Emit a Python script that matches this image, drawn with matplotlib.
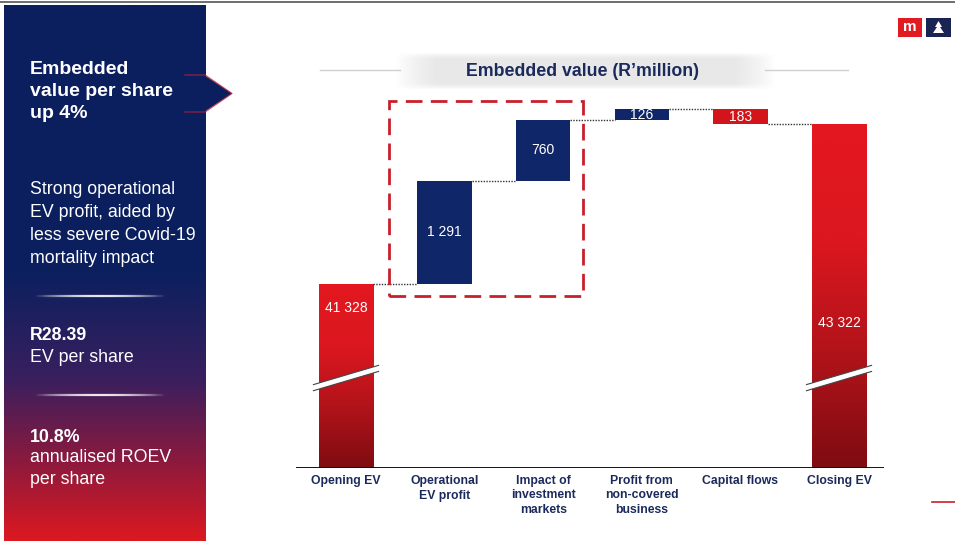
import numpy as np
import matplotlib.pyplot as plt
from matplotlib.colors import LinearSegmentedColormap, to_rgb
from matplotlib.patches import Polygon, Rectangle

plt.rcParams['font.family'] = ['Liberation Sans', 'DejaVu Sans']

# Embedded value walk, R'million
categories = ["Opening EV", "Operational\nEV profit", "Impact of\ninvestment\nmarkets",
              "Profit from\nnon-covered\nbusiness", "Capital flows", "Closing EV"]
steps = [41328, 1291, 760, 126, -183, 43322]
is_total = [True, False, False, False, False, True]
value_labels = ["41 328", "1 291", "760", "126", "183", "43 322"]

headline = ["Embedded", "value per share", "up 4%"]
commentary = ["Strong operational", "EV profit, aided by", "less severe Covid-19", "mortality impact"]
ev_per_share = ("R28.39", "EV per share")
roev = ("10.8%", ["annualised ROEV", "per share"])

NAVY = "#0f2768"
RED = "#d3141b"
TEXT_NAVY = "#1b2a5c"
W, H = 955, 541

fig = plt.figure(figsize=(W / 100, H / 100), dpi=100)
bg = fig.add_axes([0, 0, 1, 1])
bg.axis('off')

# left panel: navy fading into red
panel_cmap = LinearSegmentedColormap.from_list(
    "panel", [(0.0, "#0b1f5e"), (0.5, "#0c205e"), (0.7, "#3a1f5e"), (0.85, "#8a1a3e"), (1.0, "#dc1820")])
grad = np.linspace(0, 1, 256).reshape(-1, 1)
bg.imshow(grad, cmap=panel_cmap, extent=(4, 205, H, 5), aspect='auto', zorder=1)
bg.add_patch(Polygon([(204, 75), (232, 93.5), (204, 112)], closed=True, facecolor="#0b1f5e",
                     edgecolor='none', zorder=2))
bg.plot([185, 205, 232, 205, 185], [75, 75, 93.5, 112, 112], color="#b8203a", lw=0.9,
        alpha=0.8, zorder=2)
bg.plot([0, W], [1.5, 1.5], color="#555555", lw=1.2, zorder=3)


def line_block(lines, x, y0, step, size, weight):
    for i, s in enumerate(lines):
        bg.text(x, y0 + i * step, s, color="white", fontsize=size, fontweight=weight,
                ha='left', va='center', zorder=4)


def glow_line(y):
    xs = np.linspace(35, 165, 60)
    for a, b in zip(xs[:-1], xs[1:]):
        t = abs((a + b) / 2 - 100) / 65
        bg.plot([a, b], [y, y], color="white", lw=1.6, alpha=0.9 * (1 - t ** 2), zorder=4,
                solid_capstyle='butt')


line_block(headline, 30, 70, 21.5, 14, 'bold')
line_block(commentary, 30, 190, 22.7, 12.8, 'normal')
glow_line(296)
line_block([ev_per_share[0]], 30, 335, 21, 12.8, 'bold')
line_block([ev_per_share[1]], 30, 357, 21, 12.8, 'normal')
glow_line(395)
line_block([roev[0]], 30, 437, 21, 12.8, 'bold')
line_block(roev[1], 30, 458, 22, 12.8, 'normal')

# title with soft grey backdrop
gx = np.linspace(-1, 1, 200)
gy = np.linspace(-1, 1, 40)
mask = np.clip(1.6 - 1.6 * np.abs(gx)[None, :] ** 4, 0, 1) * np.clip(1.4 - 1.4 * np.abs(gy)[:, None] ** 3, 0, 1)
glow = np.zeros((40, 200, 4))
glow[..., :3] = to_rgb("#e4e4e4")
glow[..., 3] = mask * 0.85
bg.imshow(glow, extent=(395, 775, 90, 52), aspect='auto', zorder=1)
bg.plot([320, 400], [70, 70], color="#d0d0d0", lw=1, zorder=2)
bg.plot([765, 848], [70, 70], color="#d0d0d0", lw=1, zorder=2)
bg.text(582, 72, "Embedded value (R\u2019million)", color=TEXT_NAVY, fontsize=12.8,
        fontweight='bold', ha='center', va='center', zorder=4)

# corner marks
bg.add_patch(Rectangle((898, 18), 24, 19, facecolor="#e11b22", edgecolor='none', zorder=3))
bg.text(910, 27, "m", color="white", fontsize=11, fontweight='bold', ha='center', va='center', zorder=4)
bg.add_patch(Rectangle((926, 18), 25, 19, facecolor="#1a2452", edgecolor='none', zorder=3))
bg.add_patch(Polygon([(938.5, 21), (942, 27), (940, 27), (944, 33), (933, 33), (937, 27), (935, 27)],
                     closed=True, facecolor="white", edgecolor='none', zorder=4))
bg.plot([932, W], [502, 502], color="#c8202b", lw=1.2, zorder=3)

bg.set_xlim(0, W)
bg.set_ylim(H, 0)

# waterfall
ax = fig.add_axes([296 / W, (H - 468) / H, (884 - 296) / W, (468 - 100) / H])
ax.patch.set_visible(False)
floor = 39034            # axis is broken: bars of totals start here
ymax = 43623
bar_w = 0.55
x = np.arange(len(categories))

total_cmap = LinearSegmentedColormap.from_list("tot", ["#7e0c11", "#b2131a", "#dc171f", "#e3171f"])
running = 0
tops = []
for i, (v, tot) in enumerate(zip(steps, is_total)):
    if tot:
        ax.imshow(np.linspace(0, 1, 200).reshape(-1, 1), cmap=total_cmap, origin='lower',
                  extent=(i - bar_w / 2, i + bar_w / 2, floor, v), aspect='auto', zorder=2)
        running = v
    else:
        lo, hi = (running, running + v) if v > 0 else (running + v, running)
        ax.bar(i, hi - lo, bottom=lo, width=bar_w, color=NAVY if v > 0 else RED, zorder=2)
        running += v
    tops.append(running)

# dotted connectors between consecutive bars
for i in range(len(steps) - 1):
    ax.plot([i + bar_w / 2, i + 1 - bar_w / 2], [tops[i], tops[i]], color="#333333",
            lw=1, linestyle=(0, (1, 1)), zorder=3)

# value labels
run = 0
for i, (v, tot) in enumerate(zip(steps, is_total)):
    if tot:
        yv = v - 300 if i == 0 else v - 2480
        run = v
    else:
        yv = run + v / 2
        run += v
    ax.text(i, yv, value_labels[i], color="white", fontsize=10, ha='center', va='center', zorder=5)

# axis break marks on the total bars
for i, tot in enumerate(is_total):
    if not tot:
        continue
    yc = 40156
    dx, dy, gap = 0.33, 120, 38
    band = [(i - dx, yc - dy - gap), (i + dx, yc + dy - gap), (i + dx, yc + dy + gap), (i - dx, yc - dy + gap)]
    ax.add_patch(Polygon(band, closed=True, facecolor="white", edgecolor='none', zorder=4))
    for s in (-gap, gap):
        ax.plot([i - dx, i + dx], [yc - dy + s, yc + dy + s], color="#444444", lw=0.8, zorder=4)

# highlight box around the operating items
ax.add_patch(Rectangle((0.436, 41179), 2.40 - 0.436, 43610 - 41179, fill=False,
                       edgecolor="#c8202b", lw=2, linestyle=(0, (6, 3)), zorder=3, clip_on=False))

ax.axhline(floor, color="black", lw=1.3, zorder=4)
for i, c in enumerate(categories):
    for j, s in enumerate(c.split("\n")):
        ax.annotate(s, xy=(i, 0), xycoords=('data', 'axes fraction'), xytext=(0, -13 - 14.5 * j),
                    textcoords='offset pixels', ha='center', va='center', fontsize=8.8,
                    fontweight='bold', color=TEXT_NAVY, annotation_clip=False)

ax.set_xlim(-0.507, 5.456)
ax.set_ylim(floor, ymax)
ax.axis('off')

fig.savefig("out.png", dpi=100)
